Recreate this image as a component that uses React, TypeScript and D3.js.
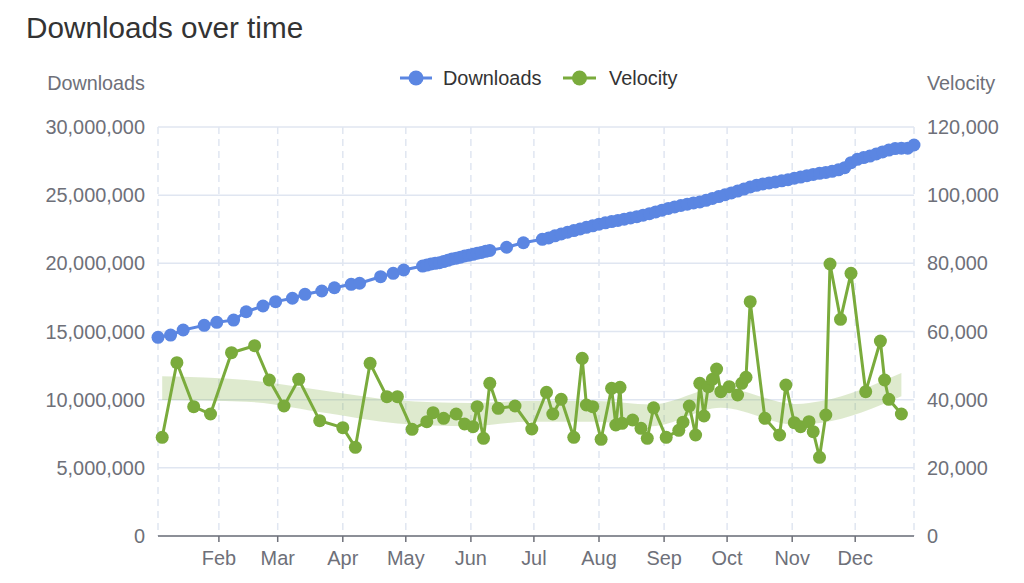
import React from "react";
import * as d3 from "d3";

const TITLE = "Downloads over time";
const LEFT_NAME = "Downloads";
const RIGHT_NAME = "Velocity";
const SERIES_NAMES = ["Downloads", "Velocity"];
const YEAR = "2023";

const downloadDates = [
  "01-03", "01-09", "01-15", "01-25", "01-31", "02-08", "02-14", "02-22", "02-28", "03-08",
  "03-14", "03-22", "03-28", "04-05", "04-09", "04-19", "04-25", "04-30", "05-09", "05-11",
  "05-13", "05-15", "05-17", "05-19", "05-21", "05-23", "05-25", "05-27", "05-29", "05-31",
  "06-02", "06-04", "06-06", "06-08", "06-10", "06-18", "06-26", "07-05", "07-08", "07-11",
  "07-14", "07-17", "07-20", "07-23", "07-26", "07-29", "08-01", "08-04", "08-07", "08-10",
  "08-13", "08-16", "08-19", "08-22", "08-25", "08-28", "08-31", "09-03", "09-06", "09-09",
  "09-12", "09-15", "09-18", "09-21", "09-24", "09-27", "09-30", "10-03", "10-06", "10-09",
  "10-12", "10-15", "10-18", "10-21", "10-24", "10-27", "10-30", "11-02", "11-05", "11-08",
  "11-11", "11-14", "11-17", "11-20", "11-23", "11-26", "11-29", "12-02", "12-05", "12-08",
  "12-11", "12-14", "12-17", "12-20", "12-23", "12-26", "12-29",
];
const downloadValues = [
  14570000, 14740000, 15110000, 15450000, 15670000, 15840000, 16450000, 16870000, 17190000, 17440000,
  17730000, 17970000, 18210000, 18460000, 18540000, 19020000, 19270000, 19510000, 19800000, 19870000,
  19950000, 20000000, 20050000, 20130000, 20220000, 20320000, 20380000, 20450000, 20540000, 20600000,
  20660000, 20740000, 20800000, 20880000, 20950000, 21180000, 21510000, 21760000, 21860000, 22020000,
  22150000, 22280000, 22400000, 22520000, 22640000, 22750000, 22870000, 22970000, 23060000, 23150000,
  23240000, 23330000, 23420000, 23530000, 23640000, 23770000, 23900000, 24030000, 24140000, 24240000,
  24340000, 24430000, 24500000, 24620000, 24760000, 24900000, 25030000, 25160000, 25300000, 25450000,
  25600000, 25720000, 25820000, 25900000, 25970000, 26050000, 26130000, 26240000, 26330000, 26430000,
  26520000, 26600000, 26670000, 26750000, 26860000, 27020000, 27380000, 27630000, 27760000, 27870000,
  28020000, 28170000, 28310000, 28420000, 28450000, 28450000, 28680000,
];

const velocityDates = [
  "01-05", "01-12", "01-20", "01-28", "02-07", "02-18", "02-25", "03-04", "03-11", "03-21",
  "04-01", "04-07", "04-14", "04-22", "04-27", "05-04", "05-11", "05-14", "05-19", "05-25",
  "05-29", "06-02", "06-04", "06-07", "06-10", "06-14", "06-22", "06-30", "07-07", "07-10",
  "07-14", "07-20", "07-24", "07-26", "07-29", "08-02", "08-07", "08-09", "08-11", "08-12",
  "08-17", "08-21", "08-24", "08-27", "09-02", "09-08", "09-10", "09-13", "09-16", "09-18",
  "09-20", "09-22", "09-24", "09-26", "09-28", "10-02", "10-06", "10-08", "10-10", "10-12",
  "10-19", "10-26", "10-29", "11-02", "11-05", "11-09", "11-11", "11-14", "11-17", "11-19",
  "11-24", "11-29", "12-06", "12-13", "12-15", "12-17", "12-23",
];
const velocityValues = [
  28960, 50850, 37940, 35790, 53780, 55830, 45770, 38140, 45970, 33830,
  31780, 26020, 50670, 40870, 40870, 31300, 33530, 36180, 34530, 35790,
  32860, 32070, 37940, 28660, 44800, 37460, 38140, 31390, 42160, 35790,
  40100, 28960, 52140, 38440, 37940, 28370, 43330, 32570, 43630, 33060,
  34030, 31600, 28660, 37600, 28960, 31000, 33400, 38140, 29630, 44800,
  35200, 43800, 45970, 49000, 42340, 43800, 41370, 44800, 46560, 68750,
  34530, 29630, 44300, 33240, 32070, 33530, 30600, 23080, 35500, 79800,
  63570, 77070, 42340, 57200, 45770, 40100, 35790,
];

const bandDates = ["01-05", "02-14", "03-25", "04-27", "05-31", "06-28", "07-31", "08-26", "09-28", "11-03", "11-15", "12-23"];
const bandLow = [39900, 39400, 36000, 33000, 32200, 33500, 33500, 32200, 37600, 32600, 33200, 41000];
const bandHigh = [46900, 45800, 42500, 39800, 39000, 39600, 39600, 38600, 43500, 38700, 39600, 47800];

const leftTicks = [0, 5000000, 10000000, 15000000, 20000000, 25000000, 30000000];
const rightTicks = [0, 20000, 40000, 60000, 80000, 100000, 120000];

const BLUE = "#5b86e2";
const GREEN = "#7aab3c";
const BAND = "rgba(122,171,60,0.25)";
const GRID = "#e0e6f1";
const AXIS = "#6e7079";
const FONT = "'Liberation Sans', Arial, sans-serif";

const parse = d3.timeParse("%Y-%m-%d");
const toDate = (s: string) => parse(`${YEAR}-${s}`) as Date;

export default function App() {
  const W = 1024, H = 583;
  const left = 158, right = 914, top = 127, bottom = 536;

  const dl = downloadDates.map((d, i) => ({ date: toDate(d), v: downloadValues[i] }));
  const vel = velocityDates.map((d, i) => ({ date: toDate(d), v: velocityValues[i] }));
  const band = bandDates.map((d, i) => ({ date: toDate(d), lo: bandLow[i], hi: bandHigh[i] }));

  const x = d3.scaleTime().domain([dl[0].date, dl[dl.length - 1].date]).range([left, right]);
  const yL = d3.scaleLinear().domain([0, 30000000]).range([bottom, top]);
  const yR = d3.scaleLinear().domain([0, 120000]).range([bottom, top]);

  const months = d3.timeMonth.range(d3.timeMonth.ceil(x.domain()[0]), x.domain()[1]);
  const fmtMonth = d3.timeFormat("%b");
  const fmtNum = d3.format(",");

  const dlLine = d3.line<any>().x((d) => x(d.date)).y((d) => yL(d.v))(dl) || "";
  const velLine = d3.line<any>().x((d) => x(d.date)).y((d) => yR(d.v))(vel) || "";
  const bandArea =
    d3
      .area<any>()
      .curve(d3.curveMonotoneX)
      .x((d) => x(d.date))
      .y0((d) => yR(d.lo))
      .y1((d) => yR(d.hi))(band) || "";

  const vLines = [x.range()[0], ...months.map((m) => x(m)), x.range()[1]];

  return (
    <svg width={W} height={H} style={{ position: "absolute", left: 0, top: 0, background: "#fff" }} fontFamily={FONT}>
      <rect x={0} y={0} width={W} height={H} fill="#fff" />
      <text x={26} y={38} fontSize={29.7} fill="#333">{TITLE}</text>

      {/* legend */}
      <g>
        <line x1={400} x2={432} y1={78} y2={78} stroke={BLUE} strokeWidth={3} />
        <circle cx={416} cy={78} r={7.5} fill={BLUE} />
        <text x={443} y={85} fontSize={19.9} fill="#333">{SERIES_NAMES[0]}</text>
        <line x1={563} x2={596} y1={78} y2={78} stroke={GREEN} strokeWidth={3} />
        <circle cx={579.5} cy={78} r={7.5} fill={GREEN} />
        <text x={609} y={85} fontSize={19.9} fill="#333">{SERIES_NAMES[1]}</text>
      </g>

      {/* axis names */}
      <text x={145} y={90} fontSize={19.8} fill={AXIS} textAnchor="end">{LEFT_NAME}</text>
      <text x={927} y={90} fontSize={19.8} fill={AXIS}>{RIGHT_NAME}</text>

      {/* horizontal grid */}
      {leftTicks.map((t) => (
        <line key={"h" + t} x1={left} x2={right} y1={yL(t)} y2={yL(t)} stroke={GRID} strokeWidth={1.5} />
      ))}
      {/* vertical dashed grid */}
      {vLines.map((vx, i) => (
        <line key={"v" + i} x1={vx} x2={vx} y1={top} y2={bottom} stroke={GRID} strokeWidth={1.5} strokeDasharray="7,5" />
      ))}

      {/* y labels */}
      {leftTicks.map((t) => (
        <text key={"l" + t} x={145} y={yL(t) + 7} fontSize={19.9} fill={AXIS} textAnchor="end">{fmtNum(t)}</text>
      ))}
      {rightTicks.map((t) => (
        <text key={"r" + t} x={927} y={yR(t) + 7} fontSize={19.9} fill={AXIS}>{fmtNum(t)}</text>
      ))}

      {/* x axis */}
      <line x1={left} x2={right} y1={bottom} y2={bottom} stroke={AXIS} strokeWidth={1.5} />
      {months.map((m, i) => (
        <g key={"m" + i}>
          <line x1={x(m)} x2={x(m)} y1={bottom} y2={bottom + 6} stroke={AXIS} strokeWidth={1.5} />
          <text x={x(m)} y={565} fontSize={19.9} fill={AXIS} textAnchor="middle">{fmtMonth(m)}</text>
        </g>
      ))}

      {/* band */}
      <path d={bandArea} fill={BAND} stroke="none" />

      {/* velocity */}
      <path d={velLine} fill="none" stroke={GREEN} strokeWidth={3} strokeLinejoin="round" />
      {vel.map((d, i) => (
        <circle key={"vc" + i} cx={x(d.date)} cy={yR(d.v)} r={6.5} fill={GREEN} />
      ))}

      {/* downloads */}
      <path d={dlLine} fill="none" stroke={BLUE} strokeWidth={3} strokeLinejoin="round" />
      {dl.map((d, i) => (
        <circle key={"dc" + i} cx={x(d.date)} cy={yL(d.v)} r={6.5} fill={BLUE} />
      ))}
    </svg>
  );
}
